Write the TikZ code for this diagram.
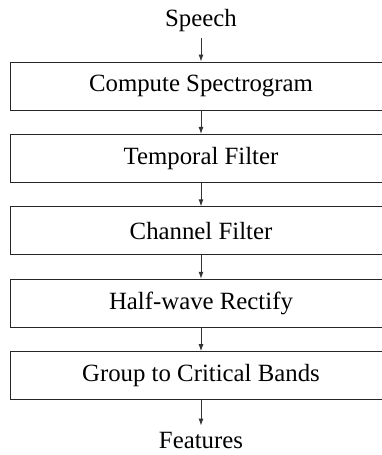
\documentclass[tikz,border=0pt]{standalone}
\usepackage{fontspec}
\setmainfont{Liberation Serif}
\usepackage{tikz}
\usetikzlibrary{arrows.meta, positioning}

\begin{document}
\begin{tikzpicture}[
    x=1pt, y=-1pt,
    node distance=23.5pt,
    stage/.style={rectangle, draw=black!85, line width=0.9pt,
                  minimum width=382pt, minimum height=48pt, inner sep=0pt,
                  align=center, font=\fontsize{24.8}{28}\selectfont},
    io/.style={inner sep=6pt, font=\fontsize{24.8}{28}\selectfont},
    arr/.style={-{Latex[length=7pt, width=5pt]}, line width=0.9pt, black!80}
  ]
  \useasboundingbox (0,0) rectangle (382,455);

  \node[stage] (spec) at (201,86) {Compute Spectrogram};
  \node[stage, below=of spec] (temp) {Temporal Filter};
  \node[stage, below=of temp] (chan) {Channel Filter};
  \node[stage, below=of chan] (rect) {Half-wave Rectify};
  \node[stage, below=of rect] (band) {Group to Critical Bands};

  \node[io, anchor=base] (speech) at (201,27) {Speech};
  \node[io, anchor=base] (feat) at (201,448) {Features};

  \draw[arr] (speech) -- (spec);
  \draw[arr] (spec) -- (temp);
  \draw[arr] (temp) -- (chan);
  \draw[arr] (chan) -- (rect);
  \draw[arr] (rect) -- (band);
  \draw[arr] (band) -- (feat);

\end{tikzpicture}
\end{document}
